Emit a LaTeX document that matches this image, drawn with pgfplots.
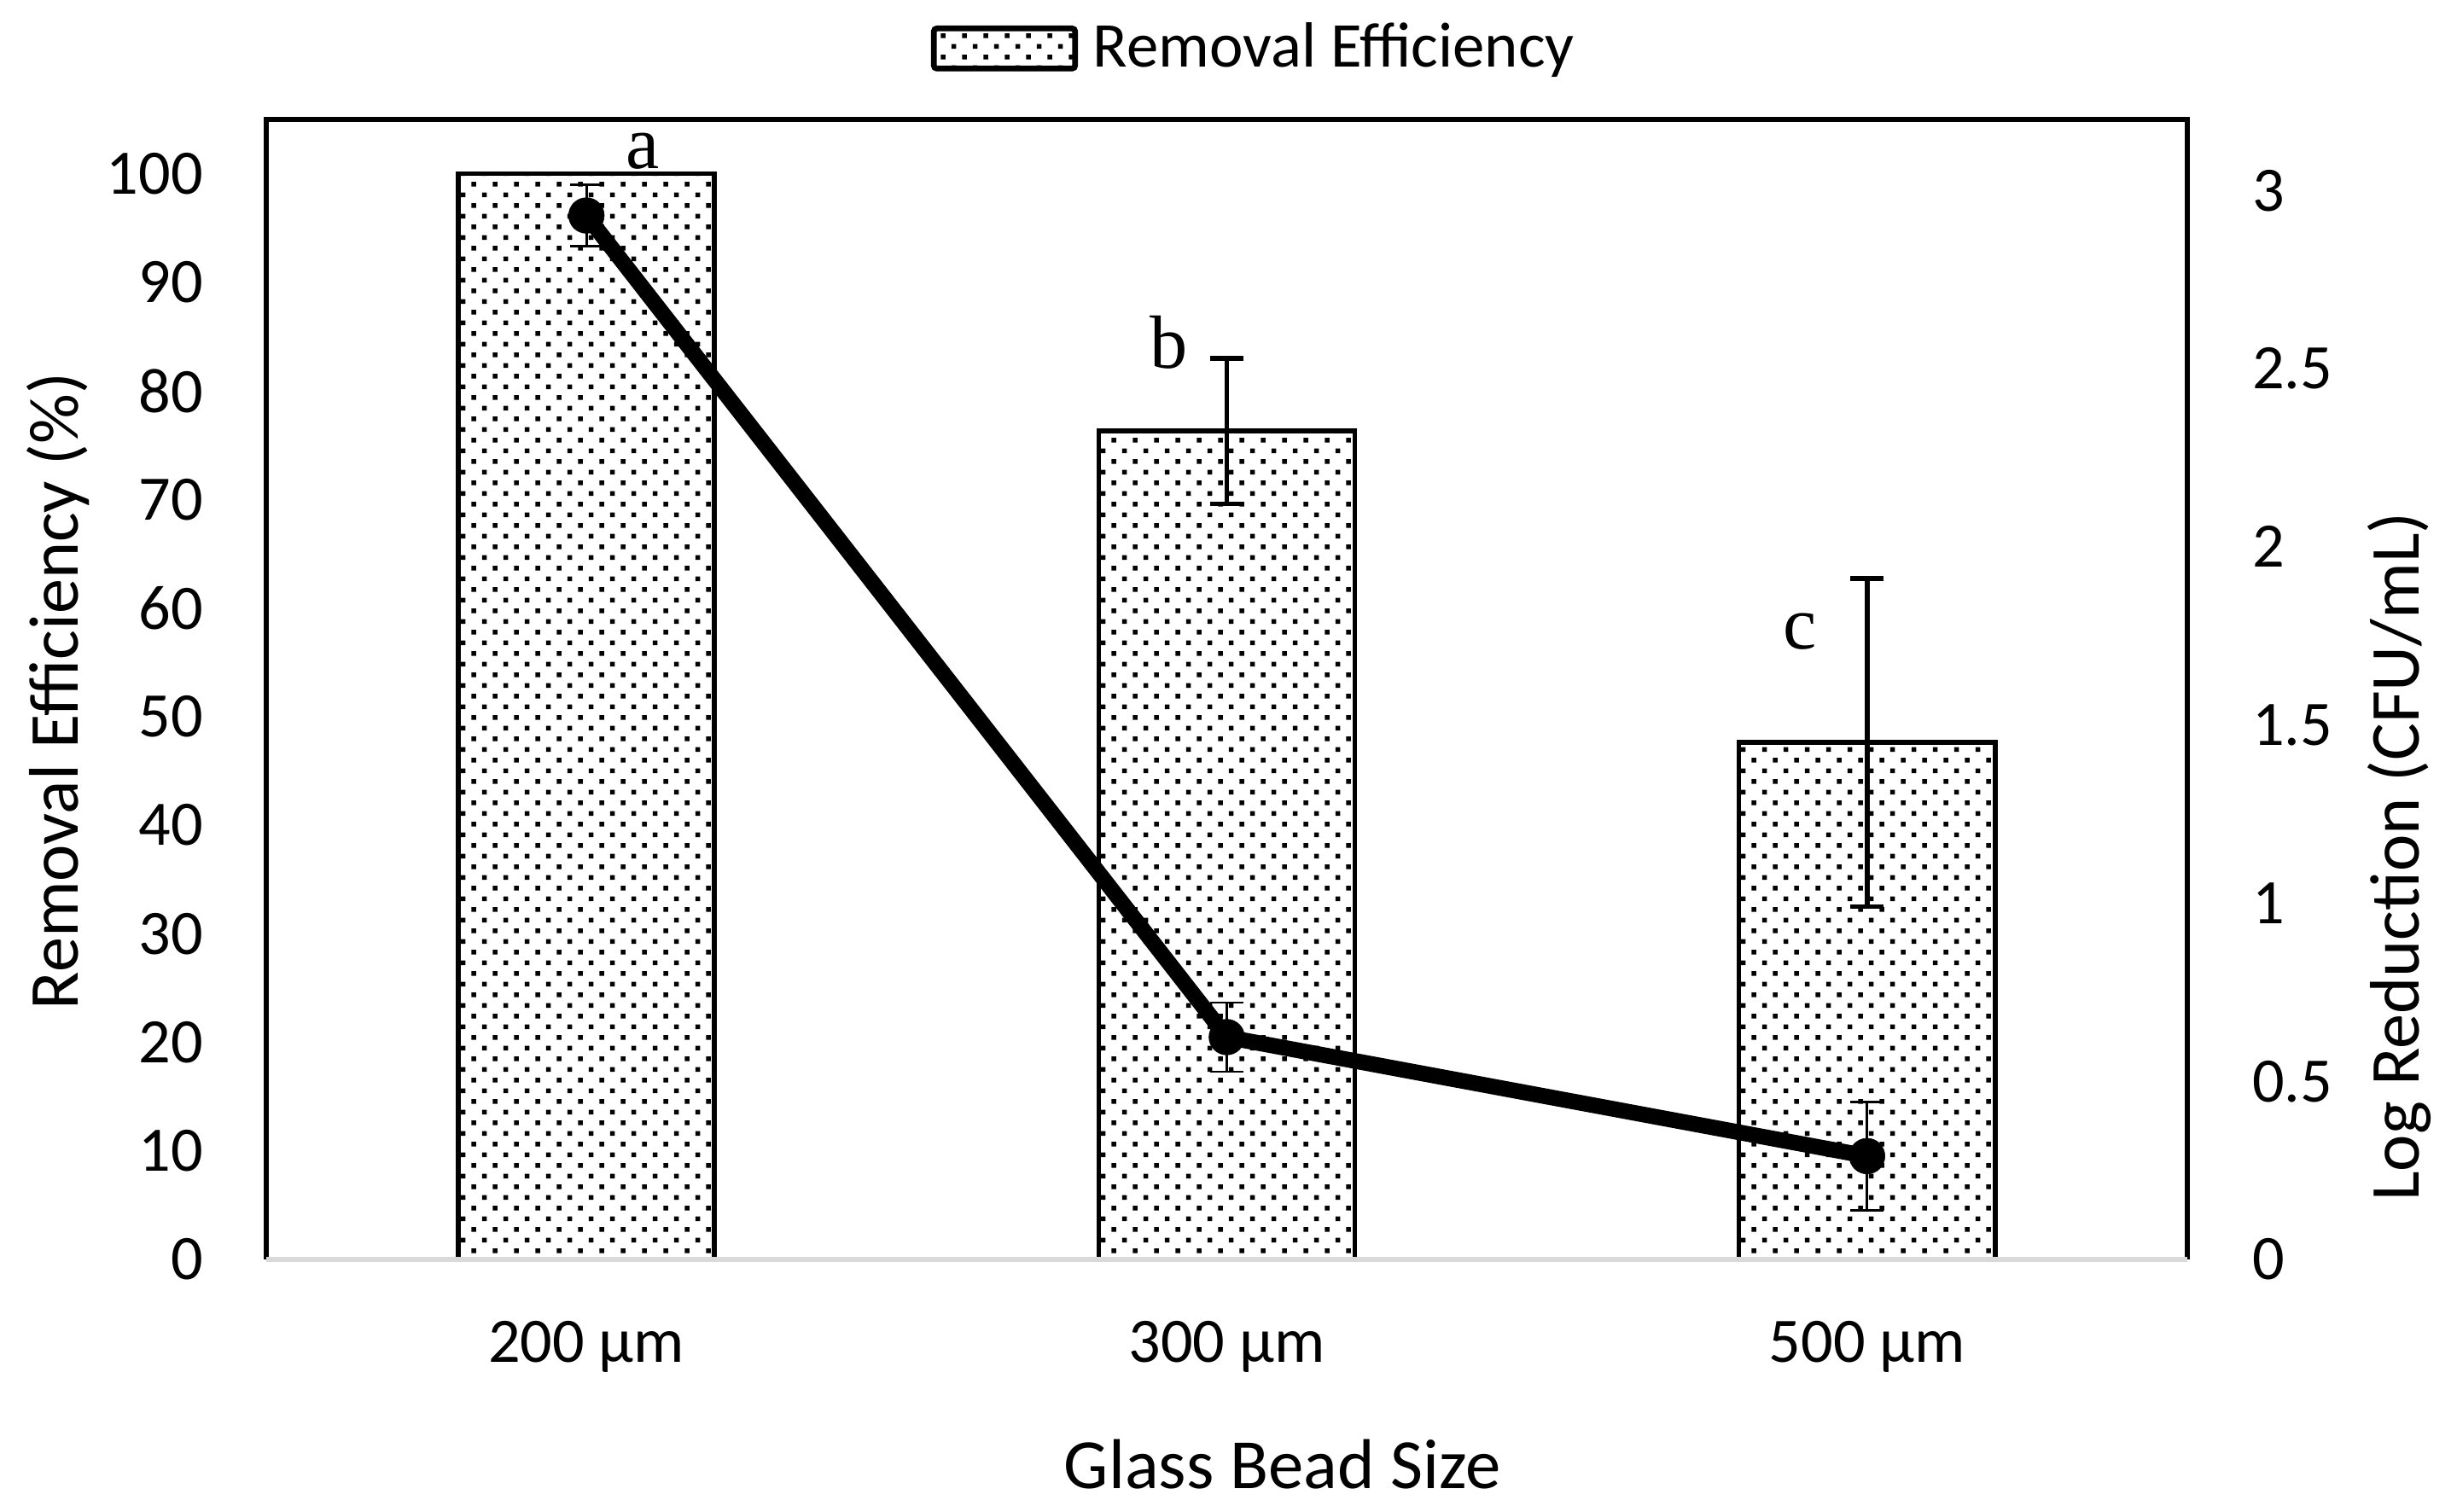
\documentclass[border=0pt]{standalone}
\usepackage{fontspec}
\setmainfont{Carlito}
\newfontfamily\serifletters{Liberation Serif}
\usepackage{pgfplots}
\usepackage{pgfplotstable}
\pgfplotsset{compat=1.18}
\usetikzlibrary{patterns}
\pgfdeclarepatternformonly{beaddots}{\pgfqpoint{0pt}{0pt}}{\pgfqpoint{4.075pt}{4.075pt}}{\pgfqpoint{4.075pt}{4.075pt}}{%
 \pgfpathrectangle{\pgfqpoint{0.55pt}{0.55pt}}{\pgfqpoint{0.9pt}{0.9pt}}%
 \pgfpathrectangle{\pgfqpoint{2.59pt}{2.59pt}}{\pgfqpoint{0.9pt}{0.9pt}}%
 \pgfusepath{fill}}
\definecolor{axgray}{HTML}{D9D9D9}

\pgfplotstableread{
x re err
0 100 0
1 76.3 6.7
2 47.6 15.1
}\retable
\pgfplotstableread{
x lr err
0 2.93 0.087
1 0.624 0.097
2 0.29 0.152
}\lrtable

\pgfplotsset{common/.style={
  width=366.9pt, height=217.8pt, scale only axis,
  at={(0pt,0pt)}, anchor=south west,
  xmin=-0.5, xmax=2.5,
  axis line style={draw=none},
  tick style={draw=none}, major tick length=0pt,
  /pgf/number format/assume math mode=true,
  ticklabel style={font=\fontsize{12.1}{14}\selectfont, inner sep=0pt},
}}

\begin{document}
\begin{tikzpicture}
\path[use as bounding box] (-50.86pt,-48.25pt) rectangle (418.42pt,240.59pt);

\begin{axis}[common,
  ymin=0, ymax=105,
  ytick={0,10,20,30,40,50,60,70,80,90,100},
  xtick={0,1,2},
  xticklabels={200 µm,300 µm,500 µm},
  yticklabel style={anchor=east}, yticklabel shift=11.9pt,
  xticklabel style={anchor=base}, xticklabel shift=19.7pt,
  clip=false,
  legend style={at={(0.346,1.0621)}, anchor=west, draw=none, fill=none,
    inner sep=0pt, outer sep=0pt, column sep=2.9pt,
    font=\fontsize{12.2}{14}\selectfont, nodes={inner sep=0pt}},
]
\addplot[ybar, bar width=0.4, draw=black, line width=0.9pt, pattern=beaddots,
  legend image code/.code={\draw[pattern=beaddots, draw=black, line width=1.1pt, rounded corners=0.6pt] (0pt,-3.83pt) rectangle (27pt,3.83pt);},
  error bars/.cd, y dir=both, y explicit,
  error bar style={line width=0.9pt, black, solid},
  error mark options={rotate=90, mark size=3.2pt, line width=0.9pt, black}]
  table[x=x, y=re, y error=err]{\retable};
\addlegendentry{Removal Efficiency}

\draw[black, line width=0.9pt, line join=miter] (rel axis cs:0,0) -- (rel axis cs:0,1) -- (rel axis cs:1,1) -- (rel axis cs:1,0);
\draw[axgray, line width=1pt] (rel axis cs:0,0) -- (rel axis cs:1,0);

\node[anchor=base, font=\serifletters\fontsize{14.4}{16}\selectfont, inner sep=0pt] at (axis cs:0.0878,100.44) {a};
\node[anchor=base, font=\serifletters\fontsize{14.4}{16}\selectfont, inner sep=0pt] at (axis cs:0.910,82.05) {b};
\node[anchor=base, font=\serifletters\fontsize{14.4}{16}\selectfont, inner sep=0pt] at (axis cs:1.895,56.19) {c};

\node[rotate=90, font=\fontsize{13.4}{16}\selectfont, inner sep=0pt] at ([xshift=-39.8pt]rel axis cs:0,0.4985) {Removal Efficiency (\%)};
\node[anchor=base, font=\fontsize{13.5}{16}\selectfont, inner sep=0pt] at ([yshift=-43.8pt]rel axis cs:0.529,0) {Glass Bead Size};
\node[rotate=90, font=\fontsize{13.4}{16}\selectfont, inner sep=0pt] at ([xshift=40.6pt]rel axis cs:1,0.3533) {Log Reduction (CFU/mL)};
\end{axis}

\begin{axis}[common,
  ymin=0, ymax=3.2,
  ytick={0,0.5,1,1.5,2,2.5,3},
  hide x axis,
  axis y line*=right,
  yticklabel style={anchor=west}, yticklabel shift=12.2pt,
]
\addplot[black, line width=3pt, mark=*, mark size=3.4pt,
  mark options={solid, fill=black, line width=0.1pt},
  error bars/.cd, y dir=both, y explicit,
  error bar style={line width=0.45pt, black},
  error mark options={rotate=90, mark size=3.15pt, line width=0.45pt, black}]
  table[x=x, y=lr, y error=err]{\lrtable};
\end{axis}
\end{tikzpicture}
\end{document}
